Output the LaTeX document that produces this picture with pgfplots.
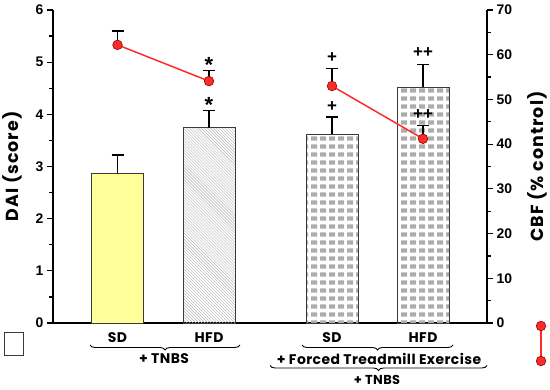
\documentclass[border=0pt]{standalone}
\usepackage{fontspec}
\setmainfont{Liberation Sans}
\newfontfamily\pop{Poppins}[LetterSpace=6]
\newfontfamily\popb{Poppins}[LetterSpace=3]
\usepackage{pgfplots}
\pgfplotsset{compat=1.18}
\usetikzlibrary{patterns,decorations.pathreplacing}
\pgfdeclarepatternformonly{bricksB}{\pgfpointorigin}{\pgfpoint{8.6bp}{8bp}}{\pgfpoint{8.6bp}{8bp}}{%
  \pgfpathrectangle{\pgfpoint{1.1bp}{1.5bp}}{\pgfpoint{6.4bp}{4.8bp}}\pgfusepath{fill}}
\definecolor{baryellow}{HTML}{FFFF99}
\definecolor{cbfred}{HTML}{FF2A2A}
\definecolor{edgegray}{HTML}{3A3A3A}
\pgfplotsset{
  common/.style={scale only axis, width=434bp, height=313bp, xmin=0, xmax=434,
    axis line style={line width=1.2bp,-}, xtick=\empty, tick align=outside,
    major tick length=6bp, minor tick length=3.5bp,
    tick style={line width=1.2bp, black},
    ticklabel style={font=\fontsize{14}{14}\selectfont\bfseries},
    /pgf/number format/assume math mode=true, clip=false},
  errs/.style={error bars/.cd, y dir=plus, y explicit, error bar style={black, line width=1.2bp},
  error mark options={black, line width=1.2bp, mark size=6bp, rotate=90}},
}
\begin{document}
\begin{tikzpicture}
\begin{axis}[common, name=ax, ymin=0, ymax=6,
  axis x line*=bottom, axis y line*=left,
  ytick={0,...,6}, minor y tick num=1,
  ylabel={DAI (score)},
  ylabel style={font=\pop\fontsize{17.5}{17.5}\selectfont\bfseries, at={(axis description cs:0,0.5)}, anchor=center, rotate=0, yshift=41bp}]
\addplot[ybar, bar shift=0pt, bar width=52bp, draw=edgegray, line width=0.9bp, fill=baryellow, errs]
  coordinates {(64.5,2.87) +- (0,0.35)};
\addplot[ybar, bar shift=0pt, bar width=52bp, draw=edgegray, line width=0.9bp,
  pattern=north west lines, pattern color=gray!60, errs]
  coordinates {(156,3.74) +- (0,0.34)};
\addplot[ybar, bar shift=0pt, bar width=52bp, draw=edgegray, line width=0.9bp,
  pattern=bricksB, pattern color=gray!65, errs]
  coordinates {(279,3.62) +- (0,0.33) (370,4.52) +- (0,0.44)};
\node[inner sep=0, anchor=north, font=\fontsize{22}{22}\selectfont\bfseries] at (axis cs:156,4.33) {*};
\node[inner sep=0, anchor=north, font=\fontsize{22}{22}\selectfont\bfseries] at (axis cs:156,5.10) {*};
\node[inner sep=0, font=\fontsize{17}{17}\selectfont\bfseries] at (axis cs:279,4.14) {+};
\node[inner sep=0, font=\fontsize{17}{17}\selectfont\bfseries] at (axis cs:279,5.09) {+};
\node[inner sep=0, font=\fontsize{17}{17}\selectfont\bfseries] at (axis cs:370,5.18) {++};
\node[inner sep=0, font=\fontsize{17}{17}\selectfont\bfseries] at (axis cs:370,3.99) {++};
\end{axis}
\begin{axis}[common, ymin=0, ymax=70,
  axis x line=none, axis y line*=right,
  ytick={0,10,...,70}, minor y tick num=1,
  ylabel={CBF (\% control)},
  ylabel style={font=\pop\fontsize{17.5}{17.5}\selectfont\bfseries, at={(axis description cs:1,0.5)}, anchor=center, rotate=0, yshift=-50bp}]
\addplot[cbfred, line width=1.5bp, mark=*, mark size=4.8bp,
  mark options={fill=cbfred, draw=red!55!black, line width=0.6bp}, errs]
  coordinates {(64.5,62.2) +- (0,3.1) (156,54.1) +- (0,2.3)};
\addplot[cbfred, line width=1.5bp, mark=*, mark size=4.8bp,
  mark options={fill=cbfred, draw=red!55!black, line width=0.6bp}, errs]
  coordinates {(279,53.0) +- (0,4.0) (370,41.2) +- (0,2.9)};
\end{axis}
\begin{scope}[shift={(ax.south west)}, font=\popb\fontsize{14}{14}\selectfont\bfseries]
\node at (64.5bp,-15bp) {SD};
\node at (156bp,-15bp) {HFD};
\node at (279bp,-15bp) {SD};
\node at (370bp,-15bp) {HFD};
\draw[line width=0.9bp, decorate, decoration={brace, mirror, amplitude=5bp}] (37bp,-22bp) -- (187bp,-22bp);
\node at (111bp,-36bp) {+ TNBS};
\draw[line width=0.9bp, decorate, decoration={brace, mirror, amplitude=5bp}] (249bp,-22bp) -- (400bp,-22bp);
\node at (326bp,-36bp) {+ Forced Treadmill Exercise};
\draw[line width=0.9bp, decorate, decoration={brace, mirror, amplitude=5bp}] (217bp,-42.5bp) -- (434bp,-42.5bp);
\node[font=\popb\fontsize{13}{13}\selectfont\bfseries] at (324bp,-56.5bp) {+ TNBS};
\draw[line width=0.8bp, draw=edgegray, fill=white] (-49bp,-9bp) rectangle ++(19bp,-23bp);
\draw[cbfred, line width=1.5bp] (488bp,-3bp) -- (488bp,-38bp);
\fill[cbfred, draw=red!55!black, line width=0.6bp] (488bp,-3bp) circle (4.8bp);
\fill[cbfred, draw=red!55!black, line width=0.6bp] (488bp,-38bp) circle (4.8bp);
\end{scope}
\pgfresetboundingbox
\path (ax.south west) ++(-53bp,-67bp) rectangle ++(550bp,390bp);
\end{tikzpicture}
\end{document}
